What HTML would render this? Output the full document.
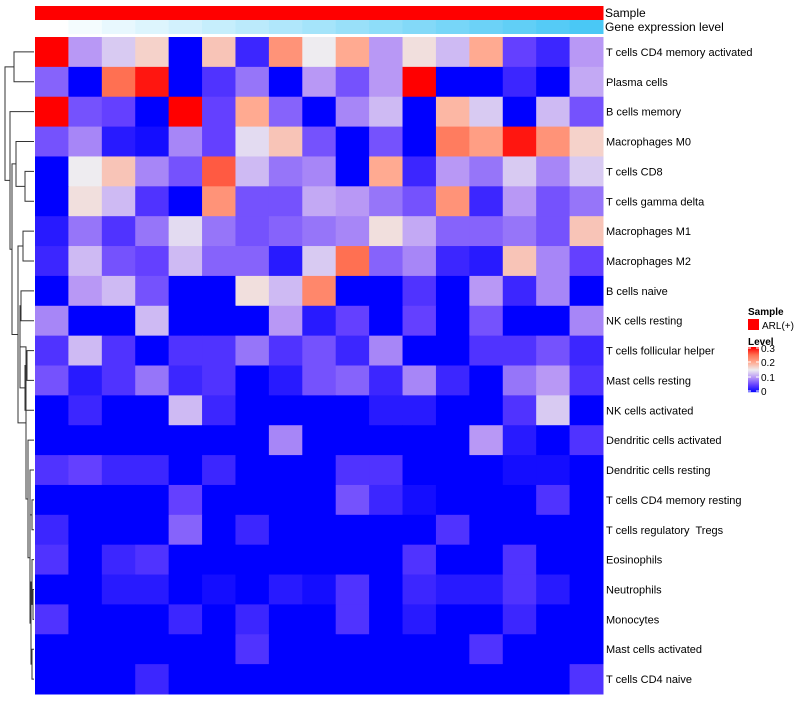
<!DOCTYPE html>
<html><head><meta charset="utf-8">
<style>
body{margin:0;background:#fff;}
svg text{font-family:"Liberation Sans",sans-serif;white-space:pre;}
</style></head>
<body>
<svg id="chart" width="800" height="700" xmlns="http://www.w3.org/2000/svg">
<g id="dendro"></g>
<g id="anno"></g>
<g id="cells"></g>
<g id="labels"></g>
<g id="legend"></g>
</svg>
<script>
const rowNames = ["T cells CD4 memory activated","Plasma cells","B cells memory","Macrophages M0","T cells CD8","T cells gamma delta","Macrophages M1","Macrophages M2","B cells naive","NK cells resting","T cells follicular helper","Mast cells resting","NK cells activated","Dendritic cells activated","Dendritic cells resting","T cells CD4 memory resting","T cells regulatory  Tregs","Eosinophils","Neutrophils","Monocytes","Mast cells activated","T cells CD4 naive"];
const row01 = [.3,.1,.13,.17,0,.18,.03,.22,.15,.2,.1,.16,.12,.2,.05,.03,.1];
const row02 = [.07,0,.25,.29,0,.04,.08,0,.1,.06,.1,.3,0,0,.03,0,.11];
const row03 = [.3,.06,.05,0,.3,.05,.2,.07,0,.09,.12,0,.19,.13,0,.12,.06];
const row04 = [.06,.09,.02,.01,.09,.05,.14,.18,.06,0,.06,0,.24,.21,.29,.22,.17];
const row05 = [0,.15,.18,.09,.06,.26,.12,.08,.09,0,.2,.03,.1,.08,.13,.09,.13];
const row06 = [0,.16,.12,.04,0,.22,.06,.06,.11,.1,.08,.06,.22,.03,.1,.06,.08];
const row07 = [.02,.08,.04,.08,.14,.08,.06,.07,.08,.09,.16,.11,.07,.07,.08,.06,.18];
const row08 = [.03,.12,.06,.05,.12,.07,.07,.02,.13,.25,.07,.09,.03,.02,.18,.09,.05];
const row09 = [0,.1,.12,.06,0,0,.16,.12,.23,0,0,.04,0,.1,.03,.09,0];
const row10 = [.09,0,0,.12,0,0,0,.1,.02,.05,0,.05,0,.06,0,0,.09];
const row11 = [.04,.12,.04,0,.04,.04,.08,.04,.06,.03,.09,0,0,.04,.04,.06,.03];
const row12 = [.06,.02,.04,.08,.03,.04,0,.02,.06,.07,.03,.09,.03,0,.08,.1,.04];
const row13 = [0,.03,0,0,.12,.03,0,0,0,0,.02,.02,0,0,.04,.13,0];
const row14 = [0,0,0,0,0,0,0,.09,0,0,0,0,0,.1,.02,0,.04];
const row15 = [.04,.05,.03,.03,0,.03,0,0,0,.04,.04,0,0,0,.01,.01,0];
const row16 = [0,0,0,0,.05,0,0,0,0,.06,.03,.01,0,0,0,.04,0];
const row17 = [.03,0,0,0,.07,0,.03,0,0,0,0,0,.04,0,0,0,0];
const row18 = [.04,0,.03,.04,0,0,0,0,0,0,0,.04,0,0,.04,0,0];
const row19 = [0,0,.02,.02,0,.01,0,.02,.01,.04,0,.03,.02,.02,.04,.02,0];
const row20 = [.04,0,0,0,.03,0,.03,0,0,.04,0,.02,0,0,.03,0,0];
const row21 = [0,0,0,0,0,0,.04,0,0,0,0,0,0,.04,0,0,0];
const row22 = [0,0,0,.03,0,0,0,0,0,0,0,0,0,0,0,0,.04];
const values = [row01,row02,row03,row04,row05,row06,row07,row08,row09,row10,row11,row12,row13,row14,row15,row16,row17,row18,row19,row20,row21,row22];
const legendTicks = [0,0.1,0.2,0.3];
const legendTickLabels = ["0","0.1","0.2","0.3"];

const NS="http://www.w3.org/2000/svg";
const X0=35,X1=603,Y0=37,Y1=694;
const nC=row01.length,nR=values.length;
const cw=(X1-X0)/nC,rh=(Y1-Y0)/nR;
const xPos=c=>X0+c*cw;
const yPos=r=>Y0+r*rh;
function mk(tag,attrs,parent){const e=document.createElementNS(NS,tag);for(const k in attrs)e.setAttribute(k,attrs[k]);parent.appendChild(e);return e;}
const stops=[[0,[0,0,255]],[0.05,[100,64,255]],[0.1,[184,152,245]],[0.15,[238,236,240]],[0.2,[255,170,145]],[0.25,[255,112,82]],[0.3,[255,0,0]]];
function col(v){v=Math.max(0,Math.min(0.3,v));for(let i=0;i<stops.length-1;i++){const[a,ca]=stops[i],[b,cb]=stops[i+1];if(v<=b){const t=(v-a)/(b-a);return`rgb(${ca.map((x,j)=>Math.round(x+(cb[j]-x)*t)).join(',')})`;}}return'red';}

const cells=document.getElementById('cells');
values.forEach((row,r)=>row.forEach((v,c)=>{
  const e=mk('rect',{x:xPos(c),y:yPos(r),width:cw+0.5,height:rh+0.5,fill:col(v)},cells);
  
  
}));

const anno=document.getElementById('anno');
for(let c=0;c<nC;c++){
  const s=mk('rect',{x:xPos(c),y:6,width:cw+0.5,height:14,fill:'#ff0000'},anno);
  
  
  const t=c/(nC-1);
  const g=mk('rect',{x:xPos(c),y:20,width:cw+0.5,height:14,fill:`rgb(${Math.round(255+(74-255)*t)},${Math.round(255+(200-255)*t)},${Math.round(255+(245-255)*t)})`},anno);
  
  
}
const a1=mk('text',{x:605,y:17,'font-size':12,fill:'#000'},anno);a1.textContent='Sample';

const a2=mk('text',{x:605,y:31,'font-size':12,fill:'#000'},anno);a2.textContent='Gene expression level';


const labels=document.getElementById('labels');
rowNames.forEach((n,r)=>{
  const t=mk('text',{x:606,y:yPos(r)+rh/2+4,'font-size':11,fill:'#000'},labels);
  t.textContent=n;
  
  
});

const merges=[[0,1,14],[4,5,25],[3,'m1',16],[6,7,23],[10,11,27],['m4',12,25],[8,9,21],['m6','m5',20],[20,21,32],[18,19,33],[17,'m9',32],['m10','m8',31],[15,16,32],[14,'m12',30],['m13','m11',30],[13,'m14',28],['m7','m15',26],['m3','m16',18],['m2','m17',12],[2,'m18',10],['m0','m19',5]];
const dend=document.getElementById('dendro');
const nodes=[];
function info(n){return typeof n==='number'?{y:yPos(n)+rh/2,x:34}:nodes[+n.slice(1)];}
merges.forEach(([a,b,x])=>{
  const A=info(a),B=info(b);
  const p=mk('path',{d:`M${A.x},${A.y}H${x}V${B.y}H${B.x}`,fill:'none',stroke:'#333','stroke-width':1},dend);
  
  
  nodes.push({x:x,y:(A.y+B.y)/2});
});

const lg=document.getElementById('legend');
const l1=mk('text',{x:748,y:315,'font-size':10,'font-weight':'bold'},lg);l1.textContent='Sample';

const l2=mk('rect',{x:748,y:319,width:11,height:11,fill:'#ff0000'},lg);

const l3=mk('text',{x:762,y:329,'font-size':10},lg);l3.textContent='ARL(+)';

const l4=mk('text',{x:748,y:345,'font-size':10,'font-weight':'bold'},lg);l4.textContent='Level';

const BY0=347,BY1=392;
const ly=v=>BY1-(v/0.3)*(BY1-BY0);
for(let i=0;i<45;i++){
  const v=0.3*(1-i/45);
  const r=mk('rect',{x:748,y:BY0+i,width:11,height:1.2,fill:col(v)},lg);
  
  
}
legendTicks.forEach((v,i)=>{
  const y=Math.max(BY0+1,Math.min(BY1-1,ly(v)));
  const tl=mk('line',{x1:748,x2:751,y1:y,y2:y,stroke:'#fff'},lg);
  
  const tr=mk('line',{x1:756,x2:759,y1:y,y2:y,stroke:'#fff'},lg);
  
  const t=mk('text',{x:761,y:y+4,'font-size':10},lg);t.textContent=legendTickLabels[i];
  
});
</script>
</body></html>
